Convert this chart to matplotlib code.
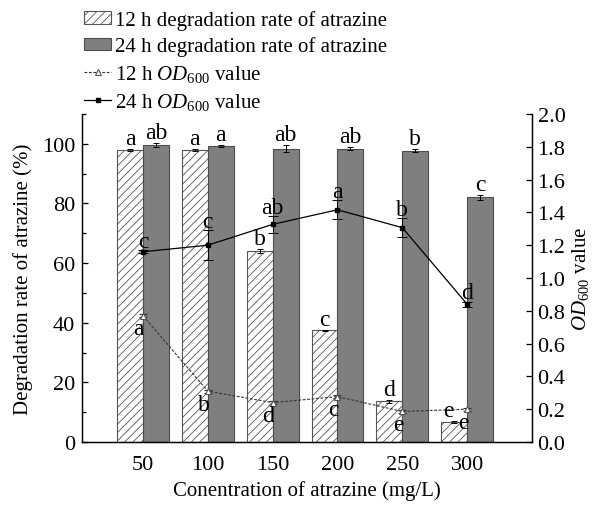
import matplotlib
matplotlib.use('Agg')
import matplotlib.pyplot as plt
import numpy as np
from matplotlib.ticker import MultipleLocator, FormatStrFormatter

plt.rcParams['font.family'] = ['Liberation Serif', 'DejaVu Serif']
plt.rcParams['mathtext.fontset'] = 'custom'
plt.rcParams['mathtext.rm'] = 'Liberation Serif'
plt.rcParams['mathtext.it'] = 'Liberation Serif:italic'
plt.rcParams['hatch.linewidth'] = 0.6

# atrazine concentration (mg/L)
conc = np.array([50, 100, 150, 200, 250, 300])

# degradation rate (%)
rate_12h = [97.9, 97.9, 64.0, 37.5, 13.6, 6.7]
rate_12h_err = [0.3, 0.3, 0.7, 0.2, 0.4, 0.2]
rate_24h = [99.6, 99.3, 98.3, 98.3, 97.7, 82.0]
rate_24h_err = [0.6, 0.4, 1.2, 0.5, 0.4, 0.8]
rate_12h_sig = ['a', 'a', 'b', 'c', 'd', 'e']
rate_24h_sig = ['ab', 'a', 'ab', 'ab', 'b', 'c']

# OD600
od_12h = [0.77, 0.31, 0.24, 0.277, 0.186, 0.20]
od_12h_err = [0.01, 0.01, 0.01, 0.01, 0.01, 0.01]
od_24h = [1.16, 1.20, 1.327, 1.416, 1.307, 0.84]
od_24h_err = [0.01, 0.09, 0.05, 0.057, 0.056, 0.015]
od_12h_sig = ['a', 'b', 'd', 'c', 'e', 'e']
od_24h_sig = ['c', 'c', 'ab', 'a', 'b', 'd']

fig = plt.figure(figsize=(5.99, 5.06), dpi=100)
ax = fig.add_axes([82/599, 1 - 443/506, 450/599, 328/506])
ax2 = ax.twinx()

w = 20
b1 = ax.bar(conc - w/2, rate_12h, width=w, color='white', edgecolor='#555555',
            hatch='////', linewidth=0.8, label='12 h degradation rate of atrazine')
b2 = ax.bar(conc + w/2, rate_24h, width=w, color='#7f7f7f', edgecolor='#4d4d4d',
            linewidth=0.8, label='24 h degradation rate of atrazine')
ax.errorbar(conc - w/2, rate_12h, yerr=rate_12h_err, fmt='none', ecolor='black',
            elinewidth=0.7, capsize=2.5, capthick=0.7)
ax.errorbar(conc + w/2, rate_24h, yerr=rate_24h_err, fmt='none', ecolor='black',
            elinewidth=0.7, capsize=2.5, capthick=0.7)

l1 = ax2.errorbar(conc, od_12h, yerr=od_12h_err, fmt='--^', color='#333333', lw=0.8,
                  markersize=5, markerfacecolor='white', markeredgecolor='#555555',
                  markeredgewidth=0.8, elinewidth=0.7, capsize=3, capthick=0.7,
                  dashes=(2.5, 1.5))
l2 = ax2.errorbar(conc, od_24h, yerr=od_24h_err, fmt='-s', color='black', lw=0.9,
                  markersize=3.5, elinewidth=0.7, capsize=3.5, capthick=0.7)

# significance letters
fs_sig = 17
dx_12h = [0, 0, 0, 0, 0, -4]  # nudge last one so it clears the OD label
for x, y, e, s, d in zip(conc, rate_12h, rate_12h_err, rate_12h_sig, dx_12h):
    ax.annotate(s, (x - w/2, y + e), xytext=(d, 0), textcoords='offset points',
                ha='center', va='bottom', fontsize=fs_sig)
for x, y, e, s in zip(conc, rate_24h, rate_24h_err, rate_24h_sig):
    ax.annotate(s, (x + w/2, y + e), xytext=(0, 0), textcoords='offset points',
                ha='center', va='bottom', fontsize=fs_sig)
for x, y, e, s in zip(conc, od_24h, od_24h_err, od_24h_sig):
    ax2.annotate(s, (x, y + e), xytext=(0, -1), textcoords='offset points',
                 ha='center', va='bottom', fontsize=fs_sig)
for x, y, s in zip(conc, od_12h, od_12h_sig):
    ax2.annotate(s, (x, y), xytext=(-3, -9.5), textcoords='offset points',
                 ha='center', va='center', fontsize=fs_sig)

ax.set_xlim(3, 350)
ax.set_ylim(0, 110)
ax2.set_ylim(0, 2.0)
ax.set_xticks(conc)
ax.yaxis.set_major_locator(MultipleLocator(20))
ax.yaxis.set_minor_locator(MultipleLocator(10))
ax2.yaxis.set_major_locator(MultipleLocator(0.2))
ax2.yaxis.set_major_formatter(FormatStrFormatter('%.1f'))

ax.tick_params(axis='x', length=0, labelsize=16, pad=9)
ax.tick_params(axis='y', which='major', direction='in', length=4, width=0.9, labelsize=16, pad=5)
ax.tick_params(axis='y', which='minor', direction='in', length=3, width=0.9)
ax2.tick_params(axis='y', direction='in', length=4, width=0.9, labelsize=16, pad=4)

for a in (ax, ax2):
    a.spines['top'].set_visible(False)
    for sp in a.spines.values():
        sp.set_linewidth(0.9)

ax.set_xlabel('Conentration of atrazine (mg/L)', fontsize=15, labelpad=5)
ax.set_ylabel('Degradation rate of atrazine (%)', fontsize=15, labelpad=6)
ax2.set_ylabel(r'$\mathit{OD}_{\mathrm{600}}$ value', fontsize=15, labelpad=3)

fig.legend(handles=[b1, b2, l1[0], l2[0]],
           labels=['12 h degradation rate of atrazine', '24 h degradation rate of atrazine',
                   r'12 h $\mathit{OD}_{\mathrm{600}}$ value', r'24 h $\mathit{OD}_{\mathrm{600}}$ value'],
           loc='upper left', bbox_to_anchor=(84/599, 1 - 11/506), frameon=False, fontsize=15,
           handlelength=1.3, handleheight=0.55, handletextpad=0.2,
           labelspacing=0.32, borderpad=0, borderaxespad=0)

fig.savefig('out.png', dpi=100)
